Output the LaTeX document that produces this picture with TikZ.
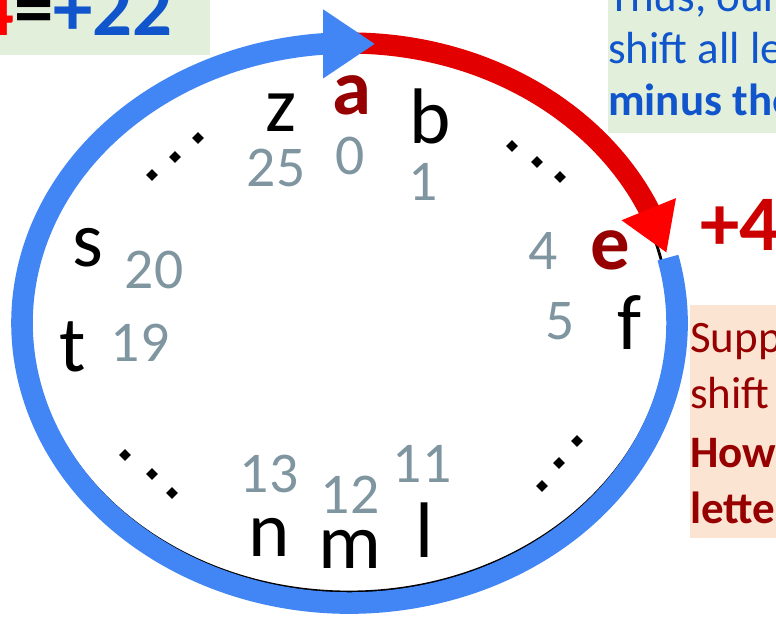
\documentclass[tikz,border=0pt]{standalone}
\usepackage{fontspec}
\setmainfont{Carlito}
\usetikzlibrary{arrows.meta,bending,shapes.geometric}
\definecolor{ringblue}{RGB}{66,133,244}
\definecolor{shiftred}{RGB}{226,0,0}
\definecolor{keyred}{RGB}{150,0,0}
\definecolor{plusred}{RGB}{204,0,0}
\definecolor{numgray}{RGB}{127,149,160}
\definecolor{notegreen}{RGB}{226,239,218}
\definecolor{noteorange}{RGB}{252,228,210}
\definecolor{noteblue}{RGB}{17,85,204}

\begin{document}
\begin{tikzpicture}[x=0.025cm,y=-0.025cm,
        letter/.style={inner sep=0pt,font=\fontsize{56}{60}\selectfont},
        keyletter/.style={inner sep=0pt,text=keyred,font=\fontsize{56}{60}\selectfont\bfseries},
        num/.style={inner sep=0pt,text=numgray,font=\fontsize{41}{46}\selectfont},
        elldot/.style={diamond,fill=black,inner sep=0pt,minimum size=0.3cm},
        note/.style={inner sep=0pt,anchor=base west,font=\fontsize{32}{38}\selectfont},
        boldnote/.style={note,font=\fontsize{32}{38}\selectfont\bfseries}]
        \useasboundingbox (0,0) rectangle (776,621);
        \clip (0,0) rectangle (776,621);

        % note boxes (cut by the frame)
        \fill[notegreen] (0,0) rectangle (210,55);
        \fill[notegreen] (608,0) rectangle (780,133);
        \fill[noteorange] (690,305) rectangle (780,538);

        \coordinate (O) at (349.5,323); % centre of the ring
        \draw[line width=2pt] (349,320) ellipse [x radius=320, y radius=272];

        % shift by +4
        \draw[shiftred, line width=0.53cm, -{Triangle[length=1.18cm,width=1.38cm,fill=red,color=red]}]
            (O) ++(-90:327.5 and 280) arc[start angle=-90, end angle=-14.5, x radius=327.5, y radius=280];
        % the rest of the way round
        \draw[ringblue, line width=0.54cm, -{Triangle[length=1.3cm,width=1.63cm]}]
            (O) ++(-13.5:327.5 and 280) arc[start angle=-13.5, end angle=274.5, x radius=327.5, y radius=280];

        % letters and their numbers
        \node[keyletter] (a) at (352,95) {a};
        \node[num] (n0) at (350,156) {0};
        \node[letter] (z) at (281,113) {z};
        \node[num] (n25) at (276,168) {25};
        \node[letter] (b) at (430,116) {b};
        \node[num] (n1) at (423,182) {1};
        \node[num] (n4) at (543,251) {4};
        \node[keyletter] (e) at (610,250) {e};
        \node[num] (n5) at (560,321) {5};
        \node[letter] (f) at (630,322) {f};
        \node[num] (n11) at (422,464) {11};
        \node[letter] (l) at (425,530) {l};
        \node[num] (n12) at (350,495) {12};
        \node[letter] (m) at (350,549) {m};
        \node[num] (n13) at (269,474) {13};
        \node[letter] (n) at (269,537) {n};
        \node[letter] (s) at (88,248) {s};
        \node[num] (n20) at (154,270) {20};
        \node[letter] (t) at (73,347) {t};
        \node[num] (n19) at (140,343) {19};

        % skipped letters
        \foreach \x/\y [count=\i] in {152/175,175/157,198/138, 512/146,537/162,560/177,
                542/486,559/463,577/441, 125/455,152/474,172/493}
            \node[elldot] (d\i) at (\x,\y) {};

        % texts of the notes
        \node[inner sep=0pt,anchor=base east,font=\fontsize{56}{60}\selectfont\bfseries] (sum) at (173,35)
            {\textcolor{red}{4}=\textcolor{noteblue}{+22}};
        \node[inner sep=0pt,anchor=base west,text=plusred,font=\fontsize{56}{60}\selectfont\bfseries] (plus) at (700,250) {+4};
        \node[note,text=noteblue] (thus) at (608,11) {Thus, our};
        \node[note,text=noteblue] (shiftall) at (608,63) {shift all letters};
        \node[boldnote,text=noteblue] (minus) at (608,115) {minus the};
        \node[note,text=keyred] (suppose) at (690,352) {Suppose};
        \node[note,text=keyred] (shift) at (690,408) {shift};
        \node[boldnote,text=keyred] (however) at (690,467) {However};
        \node[boldnote,text=keyred] (letter) at (690,523) {letter};
\end{tikzpicture}
\end{document}
